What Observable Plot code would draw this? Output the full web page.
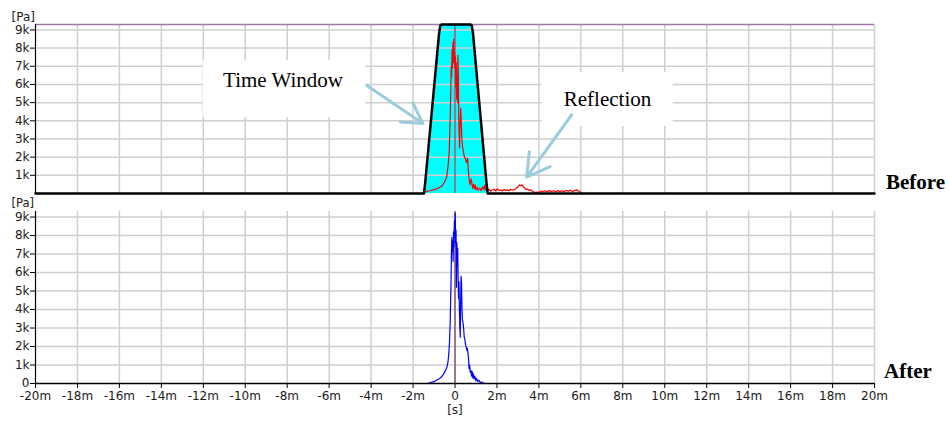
<!DOCTYPE html>
<html><head><meta charset="utf-8">
<script src="https://cdn.jsdelivr.net/npm/d3@7"></script>
<script src="https://cdn.jsdelivr.net/npm/@observablehq/plot@0.6"></script>
<style>
body{margin:0;background:#fff;}
#wrap{position:relative;width:949px;height:423px;background:#fff;}
#wrap svg{display:block;}
.side{position:absolute;font-family:"Liberation Serif",serif;font-weight:bold;font-size:21px;line-height:21px;color:#000;}
</style></head><body>
<div id="wrap"></div>
<script>
// ---- data ----
const xTicks = [-20,-18,-16,-14,-12,-10,-8,-6,-4,-2,0,2,4,6,8,10,12,14,16,18,20];
const xTickLabels = ["-20m","-18m","-16m","-14m","-12m","-10m","-8m","-6m","-4m","-2m","0","2m","4m","6m","8m","10m","12m","14m","16m","18m","20m"];
const yTicksTop = [1000,2000,3000,4000,5000,6000,7000,8000,9000];
const yTicksBottom = [0,1000,2000,3000,4000,5000,6000,7000,8000,9000];
const yTickLabels = {0:"0",1000:"1k",2000:"2k",3000:"3k",4000:"4k",5000:"5k",6000:"6k",7000:"7k",8000:"8k",9000:"9k"};

// time window (ms, Pa)
const windowT = [-20,-1.48,-1.42,-0.76,-0.70,-0.64,0.74,0.80,0.86,1.50,1.56,20];
const windowV = [0,0,600,8800,9250,9300,9300,9250,8800,600,0,0];

// "Before" signal (ms, Pa)
const beforeT = [-1.50,-1.35,-1.20,-1.05,-0.90,-0.75,-0.62,-0.50,-0.40,-0.33,-0.28,-0.25,-0.22,-0.20,-0.18,-0.16,-0.14,-0.12,-0.10,-0.08,-0.06,-0.04,-0.02,0.00,0.02,0.04,0.06,0.08,0.10,0.12,0.14,0.16,0.18,0.20,0.22,0.24,0.27,0.30,0.33,0.36,0.40,0.45,0.50,0.55,0.60,0.64,0.68,0.72,0.76,0.80,0.84,0.88,0.92,0.96,1.00,1.05,1.11,1.18,1.25,1.32,1.38,1.43,1.48,1.55,1.62,1.70,1.78,1.86,1.94,2.02,2.10,2.18,2.26,2.34,2.42,2.50,2.58,2.66,2.74,2.82,2.90,2.96,3.02,3.08,3.14,3.20,3.26,3.32,3.38,3.46,3.54,3.62,3.70,3.80,3.90,4.00,4.10,4.20,4.30,4.40,4.50,4.60,4.70,4.80,4.90,5.00,5.10,5.20,5.30,5.40,5.50,5.60,5.70,5.80,5.90,6.00,6.05];
const beforeV = [60,120,150,200,240,330,420,620,900,1500,2200,3300,4500,5800,7000,6400,7900,6900,8300,7200,8500,7300,7800,6900,7500,5800,7200,5200,6200,5000,7600,6600,4000,3200,2500,3800,4700,3900,2900,2600,2300,2000,1900,1700,1950,1200,700,480,800,600,300,500,250,480,200,350,180,300,150,380,200,480,200,160,240,120,200,230,150,250,170,190,140,220,160,200,150,230,180,210,250,330,380,470,420,480,360,300,220,250,170,200,100,60,80,60,140,110,150,90,160,120,150,100,160,120,140,100,170,130,180,110,160,200,140,60,0];

// "After" signal (ms, Pa)
const afterT = [-1.30,-1.20,-1.05,-0.95,-0.85,-0.75,-0.68,-0.60,-0.52,-0.45,-0.38,-0.33,-0.29,-0.26,-0.23,-0.21,-0.19,-0.17,-0.15,-0.13,-0.11,-0.09,-0.07,-0.05,-0.03,-0.01,0.01,0.03,0.05,0.07,0.09,0.11,0.13,0.15,0.17,0.19,0.21,0.23,0.25,0.27,0.29,0.31,0.33,0.35,0.38,0.41,0.44,0.47,0.50,0.53,0.56,0.59,0.62,0.65,0.67,0.70,0.73,0.76,0.79,0.82,0.85,0.88,0.91,0.95,0.99,1.03,1.08,1.14,1.20,1.28,1.36,1.45];
const afterV = [0,40,90,130,200,260,320,420,560,700,900,1200,1700,2300,3300,4400,5400,7000,7900,7100,7700,6600,8200,7400,8800,8000,9200,7600,8300,5200,7600,6400,7300,5600,4600,5500,4000,3100,2500,4400,5800,5500,4200,3500,3300,3000,2500,2400,2100,2000,1800,1900,1600,1300,800,1000,600,700,400,650,300,520,250,400,150,280,100,180,60,80,20,0];

// annotations (top panel, data coordinates)
const annText = ["Time Window","Reflection"];
const annTextX = [-8.2, 7.27];
const annTextY = [6250, 5180];
const annBoxX1 = [-12.0, 4.15], annBoxX2 = [-4.25, 10.4];
const annBoxY1 = [4180, 3690], annBoxY2 = [7320, 6660];
const annArrowX1 = [-4.2, 5.56], annArrowY1 = [5940, 4330];
const annArrowX2 = [-1.53, 3.42], annArrowY2 = [3850, 900];

// ---- build tables ----
const windowData = windowT.map((t,i)=>({t, v: windowV[i]}));
const beforeData = beforeT.map((t,i)=>({t, v: beforeV[i]}));
const afterData = afterT.map((t,i)=>({t, v: afterV[i]}));
const ann = annText.map((s,i)=>({s, x: annTextX[i], y: annTextY[i],
  bx1: annBoxX1[i], bx2: annBoxX2[i], by1: annBoxY1[i], by2: annBoxY2[i],
  ax1: annArrowX1[i], ay1: annArrowY1[i], ax2: annArrowX2[i], ay2: annArrowY2[i]}));
const yMax = 9300;
const grid = "#cfcfcf";
const plotStyle = {fontFamily: "DejaVu Sans", fontSize: "12px", background: "white", color: "#1a1a1a", overflow: "visible"};
const fmtY = d => yTickLabels[d];
const fmtX = d => xTickLabels[xTicks.indexOf(d)];

const topChart = Plot.plot({
  width: 949, height: 197,
  marginLeft: 35, marginRight: 75, marginTop: 24, marginBottom: 4,
  style: plotStyle,
  x: {domain: [-20, 20], axis: null},
  y: {domain: [0, yMax], axis: null},
  marks: [
    Plot.areaY(windowData, {x: "t", y: "v", fill: "#00ffff"}),
    Plot.ruleX(xTicks.slice(1), {stroke: grid, strokeWidth: 1.5}),
    Plot.ruleY(yTicksTop, {stroke: grid, strokeWidth: 1.5}),
    Plot.rect(ann, {x1: "bx1", x2: "bx2", y1: "by1", y2: "by2", fill: "white"}),
    Plot.ruleY([yMax], {stroke: "#a274a8", strokeWidth: 1.5}),
    Plot.ruleX([0], {stroke: "#70406e", strokeWidth: 1.2}),
    Plot.line(beforeData, {x: "t", y: "v", stroke: "#ff0000", strokeWidth: 1.2}),
    Plot.line(windowData, {x: "t", y: "v", stroke: "black", strokeWidth: 2.5}),
    Plot.arrow(ann, {x1: "ax1", y1: "ay1", x2: "ax2", y2: "ay2", stroke: "#9ccbdd", strokeWidth: 3, headLength: 14}),
    Plot.text(ann, {x: "x", y: "y", text: "s", fontFamily: "Liberation Serif", fontSize: 21, fill: "black"}),
    Plot.ruleX([-20], {stroke: "black", strokeWidth: 1.2}),
    Plot.axisY({ticks: yTicksTop, tickFormat: fmtY, tickSize: 5, tickPadding: 1, stroke: "black", label: null}),
    Plot.text(["[Pa]"], {frameAnchor: "top-left", dx: -24, dy: -12, textAnchor: "start", fontSize: 12, fill: "#1a1a1a"})
  ]
});

const bottomChart = Plot.plot({
  width: 949, height: 226,
  marginLeft: 35, marginRight: 75, marginTop: 14, marginBottom: 40,
  style: plotStyle,
  x: {domain: [-20, 20]},
  y: {domain: [0, yMax]},
  marks: [
    Plot.ruleX(xTicks.slice(1), {stroke: grid, strokeWidth: 1.5}),
    Plot.ruleY(yTicksBottom.slice(1), {stroke: grid, strokeWidth: 1.5}),
    Plot.ruleX([0], {stroke: "#6e3a50", strokeWidth: 1.2}),
    Plot.line(afterData, {x: "t", y: "v", stroke: "#0000ff", strokeWidth: 1.2}),
    Plot.ruleX([-20], {stroke: "black", strokeWidth: 1.2}),
    Plot.ruleY([0], {stroke: "black", strokeWidth: 1.5}),
    Plot.axisY({ticks: yTicksBottom, tickFormat: fmtY, tickSize: 5, tickPadding: 1, stroke: "black", label: null}),
    Plot.axisX({ticks: xTicks, tickFormat: fmtX, tickSize: 5, tickPadding: 3, stroke: "black", label: null}),
    Plot.text(["[Pa]"], {frameAnchor: "top-left", dx: -24, dy: -13, textAnchor: "start", fontSize: 11.5, fill: "#1a1a1a"}),
    Plot.text(["[s]"], {frameAnchor: "bottom", dy: 30, fontSize: 12, fill: "#1a1a1a"})
  ]
});

const wrap = document.getElementById("wrap");
wrap.appendChild(topChart);
wrap.appendChild(bottomChart);
const b = document.createElement("div"); b.className = "side"; b.textContent = "Before";
b.style.left = "886px"; b.style.top = "172px"; wrap.appendChild(b);
const a = document.createElement("div"); a.className = "side"; a.textContent = "After";
a.style.left = "884px"; a.style.top = "361px"; wrap.appendChild(a);
</script>
</body></html>
